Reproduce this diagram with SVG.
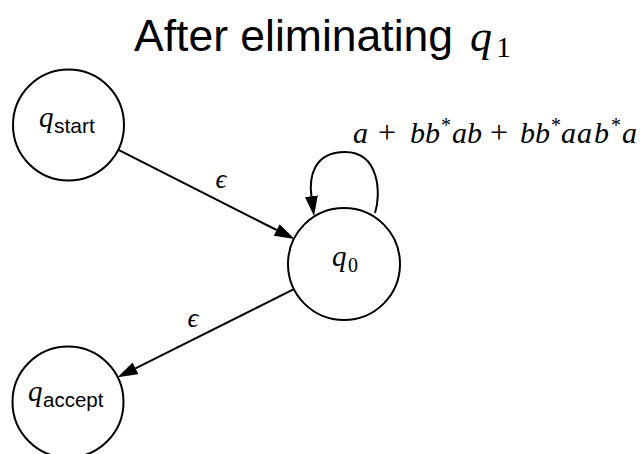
<svg xmlns="http://www.w3.org/2000/svg" width="643" height="454" viewBox="0 0 643 454">
<style>
.node{fill:#fff;stroke:#000;stroke-width:2}
.edge{fill:none;stroke:#000;stroke-width:2}
.m{font-family:"Liberation Serif","Times New Roman",serif;font-style:italic;fill:#000}
.r{font-family:"Liberation Serif","Times New Roman",serif;font-style:normal;fill:#000}
.s{font-family:"Liberation Sans",Arial,sans-serif;fill:#000}
</style>
<defs>
<marker id="arr" markerUnits="userSpaceOnUse" markerWidth="21" markerHeight="14" refX="0" refY="6.5" orient="auto">
<path d="M0,0 L20,6.5 L0,13 z" fill="#000"/>
</marker>
</defs>
<rect width="643" height="454" fill="#fff"/>
<g id="title">
<text x="134" y="51" class="s" font-size="44.5">After eliminating</text>
<text x="470" y="51" class="m" font-size="44">q</text>
<text x="496" y="57" class="r" font-size="30">1</text>
</g>
<g id="connectors">
<path class="edge" d="M118,149.7 L276.7,230" marker-end="url(#arr)"/>
<path class="edge" d="M294.4,288.8 L135.5,368.3" marker-end="url(#arr)"/>
<path class="edge" d="M375,213 C381,195 380,152 345,152 C313,152 309,178 311.4,196.2" marker-end="url(#arr)"/>
<text x="221" y="188" class="m" font-size="27" text-anchor="middle">ϵ</text>
<text x="193" y="326.5" class="m" font-size="27" text-anchor="middle">ϵ</text>
<text y="143" class="m" font-size="30"><tspan x="353">a</tspan><tspan x="378" class="r" font-size="32">+</tspan><tspan x="410">bb</tspan><tspan x="441" class="r" font-size="20" dy="-11">*</tspan><tspan x="452" dy="11">ab</tspan><tspan x="490" class="r" font-size="32">+</tspan><tspan x="520">bb</tspan><tspan x="551" class="r" font-size="20" dy="-11">*</tspan><tspan x="561" dy="11">a</tspan><tspan x="577">a</tspan><tspan x="594">b</tspan><tspan x="611" class="r" font-size="20" dy="-11">*</tspan><tspan x="622" dy="11">a</tspan></text>
</g>
<g id="q_start">
<circle class="node" cx="68.5" cy="125" r="55.5"/>
<text x="39" y="127" class="m" font-size="29">q</text>
<text x="54" y="133" class="s" font-size="21">start</text>
</g>
<g id="q0">
<circle class="node" cx="344" cy="264" r="56"/>
<text x="332" y="266" class="m" font-size="29">q</text>
<text x="348" y="272" class="r" font-size="20">0</text>
</g>
<g id="q_accept">
<circle class="node" cx="68" cy="402" r="55.5"/>
<text x="28" y="401" class="m" font-size="29">q</text>
<text x="43" y="407" class="s" font-size="20.5">accept</text>
</g>
</svg>
